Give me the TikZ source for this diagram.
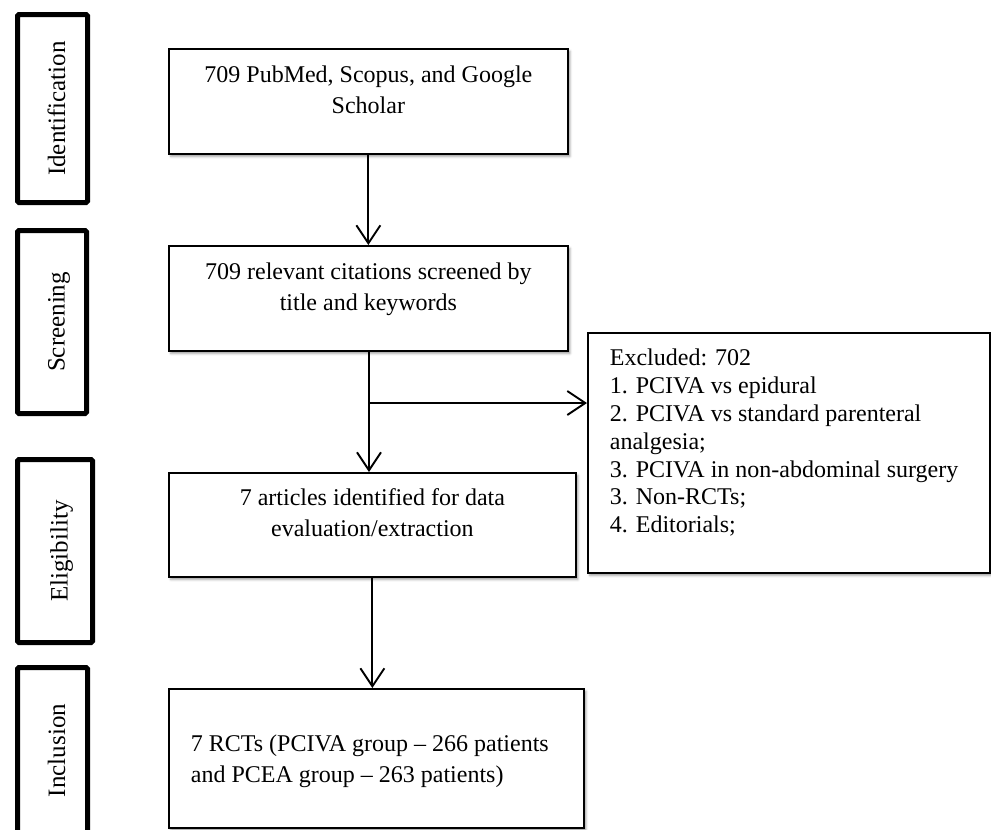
\documentclass[tikz,border=0pt]{standalone}
\usepackage{fontspec}
\setmainfont{Liberation Serif}
\usepackage{graphicx}
\usetikzlibrary{arrows.meta,shadows.blur}
\begin{document}
\begin{tikzpicture}[x=1pt,y=-1pt,
  mainbox/.style={draw=black, line width=1.8pt, inner sep=0pt, fill=white, anchor=north west,
    blur shadow={shadow xshift=2pt, shadow yshift=-2.5pt, shadow blur radius=2.5pt, shadow opacity=40},
    font=\fontsize{24}{31}\selectfont},
  phasebox/.style={draw=black, line width=5pt, rounded corners=1.5pt, rotate=90, inner sep=0pt,
    text height=25pt, text depth=0pt, font=\fontsize{25}{30}\selectfont},
  arr/.style={line width=1.9pt, -{Straight Barb[length=18pt,width=24pt,line width=1.9pt]}},
  connline/.style={line width=1.9pt}
]
\useasboundingbox (0,0) rectangle (991,830);

% phase labels
\node[phasebox, minimum width=188pt, minimum height=70pt] (p1) at (52.5,108.5) {Identification};
\node[phasebox, minimum width=183pt, minimum height=69pt] (p2) at (52,322) {Screening};
\node[phasebox, minimum width=183pt, minimum height=75pt] (p3) at (55,551) {Eligibility};
\node[phasebox, minimum width=166pt, minimum height=70pt] (p4) at (52.5,750.5) {Inclusion};

% main boxes
\node[mainbox] (b1) at (168,48)
  {\parbox[c][105pt][t]{399pt}{\centering\rule{0pt}{34pt}709 PubMed, Scopus, and Google\\Scholar}};
\node[mainbox] (b2) at (168,245)
  {\parbox[c][105pt][t]{399pt}{\centering\rule{0pt}{34pt}709 relevant citations screened by\\title and keywords}};
\node[mainbox] (b3) at (168,472)
  {\parbox[c][104pt][t]{407pt}{\centering\rule{0pt}{33pt}7 articles identified for data\\evaluation/extraction}};
\node[mainbox] (b4) at (168,688)
  {\parbox[c][139pt][t]{415pt}{\raggedright\leftskip=22pt\rule{0pt}{63pt}7 RCTs (PCIVA group – 266 patients\\and PCEA group – 263 patients)}};
\node[mainbox, font=\fontsize{24}{27.8}\selectfont] (ex) at (587,332)
  {\parbox[c][240pt][t]{402pt}{\raggedright\leftskip=22pt\rule{0pt}{33pt}Excluded: 702\\1. PCIVA vs epidural\\2. PCIVA vs standard parenteral\\analgesia;\\3. PCIVA in non-abdominal surgery\\3. Non-RCTs;\\4. Editorials;}};

% connectors
\coordinate (br) at (369,403);
\draw[arr] (b1.south) -- (b2.north);
\draw[connline] (b2.south -| br) -- (br);
\draw[arr] (br) -- (br |- b3.north);
\draw[arr] (br) -- (br -| ex.west);
\draw[arr] (b3.south) -- (b3.south |- b4.north);
\end{tikzpicture}
\end{document}
